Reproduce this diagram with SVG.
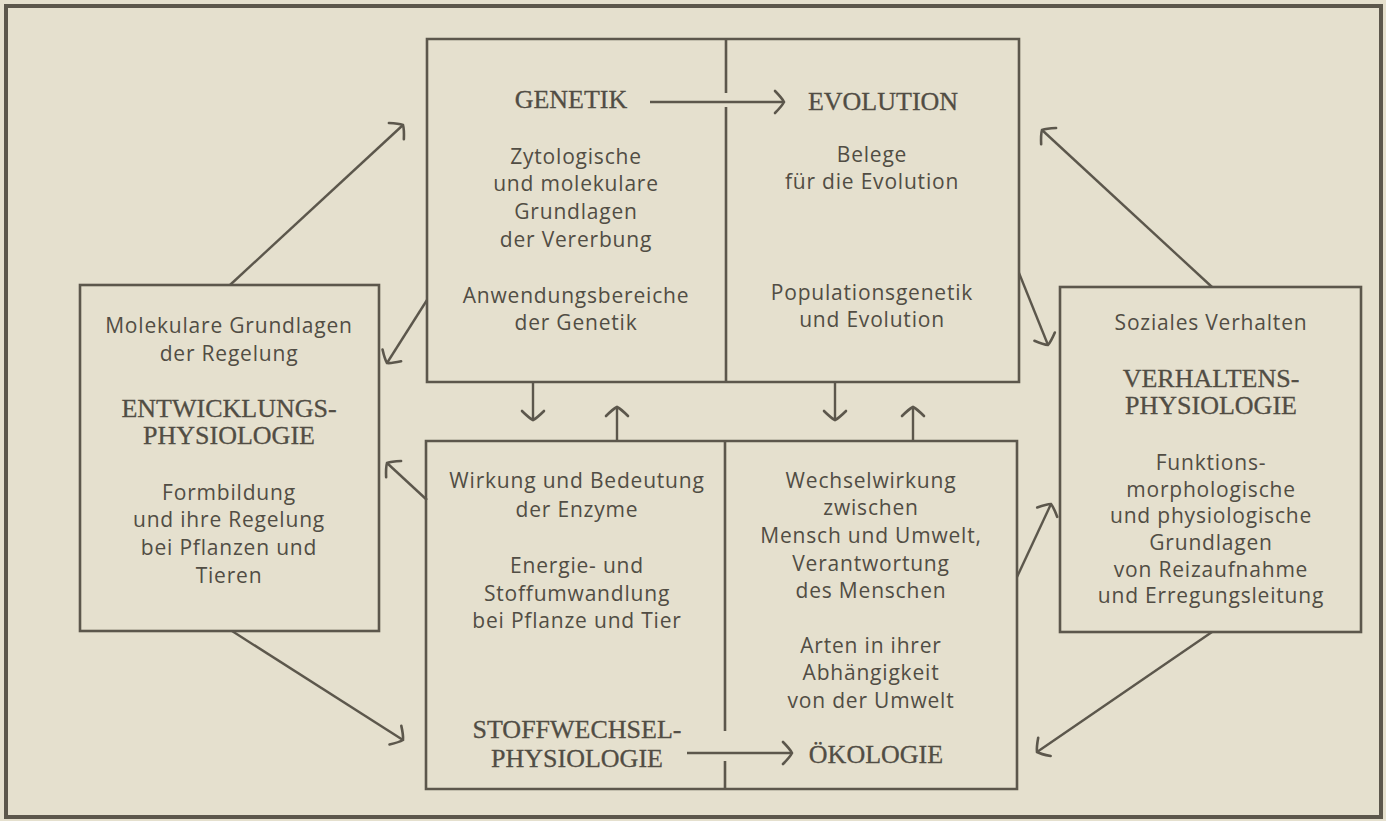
<svg xmlns="http://www.w3.org/2000/svg" width="1386" height="821" viewBox="0 0 1386 821">
<defs>
<style>
.bg{fill:#e5e0ce}
.frame{fill:none;stroke:#5c574c;stroke-width:4}
.box{fill:none;stroke:#5c574c;stroke-width:2.6}
.con{fill:none;stroke:#5c574c;stroke-width:2.4}
.cap{font-family:"Liberation Serif",serif;font-size:26px;fill:#514d44;text-anchor:middle;stroke:#514d44;stroke-width:0.3}
.txt{font-family:"Open Sans","Liberation Sans",sans-serif;font-size:21px;letter-spacing:0.8px;fill:#514d44;text-anchor:middle}
</style>
<marker id="ah" markerUnits="userSpaceOnUse" viewBox="-14 -14 16 28" refX="0" refY="0" markerWidth="16" markerHeight="28" orient="auto">
<path d="M -9 -11 Q -2 -4 0 0 Q -2 4 -9 11" fill="none" stroke="#5c574c" stroke-width="2.6" stroke-linecap="round"/>
</marker>
</defs>
<rect class="bg" x="0" y="0" width="1386" height="821"/>
<rect class="frame" x="6" y="6" width="1375" height="811"/>

<g id="genetik-evolution">
<path class="box" d="M427 39 H1019 V382 H427 Z"/>
<path class="box" d="M726 39 V93 M726 107 V382"/>
<text class="cap" x="571" y="108">GENETIK</text>
<text class="txt" x="576" y="164">Zytologische</text>
<text class="txt" x="576" y="191">und molekulare</text>
<text class="txt" x="576" y="219">Grundlagen</text>
<text class="txt" x="576" y="247">der Vererbung</text>
<text class="txt" x="576" y="303">Anwendungsbereiche</text>
<text class="txt" x="576" y="330">der Genetik</text>
<text class="cap" x="883" y="110">EVOLUTION</text>
<text class="txt" x="872" y="162">Belege</text>
<text class="txt" x="872" y="189">für die Evolution</text>
<text class="txt" x="872" y="300">Populationsgenetik</text>
<text class="txt" x="872" y="327">und Evolution</text>
</g>

<g id="stoffwechsel-oekologie">
<path class="box" d="M426 441 H1017 V789 H426 Z"/>
<path class="box" d="M725 441 V731 M725 761 V789"/>
<text class="txt" x="577" y="488">Wirkung und Bedeutung</text>
<text class="txt" x="577" y="517">der Enzyme</text>
<text class="txt" x="577" y="573">Energie- und</text>
<text class="txt" x="577" y="601">Stoffumwandlung</text>
<text class="txt" x="577" y="628">bei Pflanze und Tier</text>
<text class="cap" x="577" y="738">STOFFWECHSEL-</text>
<text class="cap" x="577" y="767">PHYSIOLOGIE</text>
<text class="txt" x="871" y="488">Wechselwirkung</text>
<text class="txt" x="871" y="515">zwischen</text>
<text class="txt" x="871" y="543">Mensch und Umwelt,</text>
<text class="txt" x="871" y="571">Verantwortung</text>
<text class="txt" x="871" y="598">des Menschen</text>
<text class="txt" x="871" y="653">Arten in ihrer</text>
<text class="txt" x="871" y="680">Abhängigkeit</text>
<text class="txt" x="871" y="708">von der Umwelt</text>
<text class="cap" x="876" y="763">ÖKOLOGIE</text>
</g>

<g id="entwicklungsphysiologie">
<rect class="box" x="80" y="285" width="299" height="346"/>
<text class="txt" x="229" y="333">Molekulare Grundlagen</text>
<text class="txt" x="229" y="361">der Regelung</text>
<text class="cap" x="229" y="417">ENTWICKLUNGS-</text>
<text class="cap" x="229" y="444">PHYSIOLOGIE</text>
<text class="txt" x="229" y="500">Formbildung</text>
<text class="txt" x="229" y="527">und ihre Regelung</text>
<text class="txt" x="229" y="555">bei Pflanzen und</text>
<text class="txt" x="229" y="583">Tieren</text>
</g>

<g id="verhaltensphysiologie">
<rect class="box" x="1060" y="287" width="301" height="345"/>
<text class="txt" x="1211" y="330">Soziales Verhalten</text>
<text class="cap" x="1211" y="387">VERHALTENS-</text>
<text class="cap" x="1211" y="414">PHYSIOLOGIE</text>
<text class="txt" x="1211" y="470">Funktions-</text>
<text class="txt" x="1211" y="497">morphologische</text>
<text class="txt" x="1211" y="523">und physiologische</text>
<text class="txt" x="1211" y="550">Grundlagen</text>
<text class="txt" x="1211" y="577">von Reizaufnahme</text>
<text class="txt" x="1211" y="603">und Erregungsleitung</text>
</g>

<g id="connectors">
<line class="con" x1="650" y1="102" x2="784" y2="102" marker-end="url(#ah)"/>
<line class="con" x1="687" y1="753" x2="792" y2="753" marker-end="url(#ah)"/>
<line class="con" x1="533" y1="382" x2="533" y2="420" marker-end="url(#ah)"/>
<line class="con" x1="617" y1="441" x2="617" y2="407" marker-end="url(#ah)"/>
<line class="con" x1="835" y1="382" x2="835" y2="420" marker-end="url(#ah)"/>
<line class="con" x1="913" y1="441" x2="913" y2="407" marker-end="url(#ah)"/>
<line class="con" x1="230" y1="285" x2="403" y2="125" marker-end="url(#ah)"/>
<line class="con" x1="427" y1="300" x2="387" y2="363" marker-end="url(#ah)"/>
<line class="con" x1="427" y1="500" x2="387" y2="463" marker-end="url(#ah)"/>
<line class="con" x1="232" y1="631" x2="403" y2="740" marker-end="url(#ah)"/>
<line class="con" x1="1212" y1="287" x2="1042" y2="130" marker-end="url(#ah)"/>
<line class="con" x1="1019" y1="273" x2="1048" y2="345" marker-end="url(#ah)"/>
<line class="con" x1="1017" y1="577" x2="1051" y2="504" marker-end="url(#ah)"/>
<line class="con" x1="1212" y1="632" x2="1037" y2="752" marker-end="url(#ah)"/>
</g>
</svg>
